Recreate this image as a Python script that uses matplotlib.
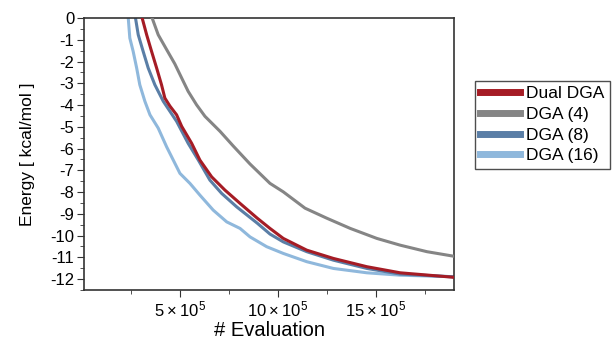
import matplotlib
matplotlib.use("Agg")
import matplotlib.pyplot as plt
from matplotlib.ticker import MultipleLocator, FixedLocator, FuncFormatter

plt.rcParams['font.family'] = ['Liberation Sans', 'DejaVu Sans']
plt.rcParams['mathtext.fontset'] = 'custom'
plt.rcParams['mathtext.rm'] = 'Liberation Sans'
plt.rcParams['axes.unicode_minus'] = False

# evaluations in units of 1e5, energy in kcal/mol
dual_x = [3.07, 3.30, 3.55, 3.81, 4.06, 4.23, 4.49, 4.83, 5.09, 5.60, 6.02, 6.62, 7.30,
          8.07, 8.95, 9.60, 10.28, 11.48, 12.84, 14.55, 16.25, 18.90, 19.0]
dual_y = [0.0, -0.77, -1.53, -2.30, -3.07, -3.68, -4.05, -4.45, -4.98, -5.76, -6.53, -7.30, -7.91,
          -8.52, -9.20, -9.67, -10.13, -10.67, -11.05, -11.43, -11.71, -11.91, -11.92]

dga4_x = [3.58, 3.89, 4.32, 4.74, 5.09, 5.42, 5.85, 6.28, 7.05, 7.73, 8.58, 9.60, 10.28,
          11.39, 12.50, 13.70, 15.06, 16.25, 17.62, 19.0]
dga4_y = [0.0, -0.77, -1.45, -2.11, -2.76, -3.37, -3.99, -4.52, -5.21, -5.89, -6.71, -7.60, -7.99,
          -8.74, -9.20, -9.67, -10.13, -10.44, -10.74, -10.95]

dga8_x = [2.73, 2.87, 3.12, 3.38, 3.72, 4.15, 4.49, 4.83, 5.42, 5.94, 6.53, 7.13, 7.90,
          8.95, 9.60, 10.28, 11.48, 12.84, 14.55, 16.25, 18.90, 19.0]
dga8_y = [0.0, -0.77, -1.53, -2.30, -3.07, -3.83, -4.29, -4.75, -5.76, -6.53, -7.45, -8.06, -8.68,
          -9.43, -9.93, -10.29, -10.74, -11.13, -11.51, -11.77, -11.89, -11.90]

dga16_x = [2.36, 2.44, 2.61, 2.79, 2.95, 3.21, 3.47, 3.89, 4.32, 4.66, 5.00, 5.51, 6.02,
           6.70, 7.39, 8.07, 8.58, 9.43, 10.28, 11.48, 12.84, 14.55, 16.25, 18.90, 19.0]
dga16_y = [0.0, -0.92, -1.53, -2.30, -3.07, -3.83, -4.45, -5.06, -5.92, -6.53, -7.14, -7.60, -8.14,
           -8.83, -9.37, -9.67, -10.06, -10.51, -10.82, -11.20, -11.51, -11.71, -11.82, -11.89, -11.90]

labels = ['Dual DGA', 'DGA (4)', 'DGA (8)', 'DGA (16)']
colors = ['#a51c25', '#858585', '#5a7ea6', '#8fb8dc']

fig = plt.figure(figsize=(6.15, 3.41), dpi=100)
ax = fig.add_axes([0.1366, 0.1496, 0.6016, 0.7976])

series = [(dual_x, dual_y), (dga4_x, dga4_y), (dga8_x, dga8_y), (dga16_x, dga16_y)]
zs = [4, 3, 2, 1]  # red on top, light blue at the bottom
lines = []
for i in range(4):
    xs, ys = series[i]
    ln, = ax.plot([v * 1e5 for v in xs], ys, color=colors[i], lw=2.2,
                  label=labels[i], zorder=zs[i], solid_joinstyle='round')
    lines.append(ln)

ax.set_xlim(0.1e5, 19.0e5)
ax.set_ylim(-12.5, 0)

ax.yaxis.set_major_locator(MultipleLocator(1))
ax.yaxis.set_minor_locator(MultipleLocator(0.5))
ax.yaxis.set_major_formatter(FuncFormatter(lambda v, p: '%d' % round(v)))
ax.xaxis.set_major_locator(FixedLocator([5e5, 10e5, 15e5]))
ax.xaxis.set_minor_locator(FixedLocator([2.5e5, 7.5e5, 12.5e5, 17.5e5]))
ax.xaxis.set_major_formatter(FuncFormatter(
    lambda v, p: r'$\mathregular{%d\times10^{5}}$' % round(v / 1e5)))

ax.tick_params(which='both', direction='out', color='#333333', labelsize=12, pad=2)
ax.tick_params(which='major', length=5)
ax.tick_params(which='minor', length=3)
for s in ax.spines.values():
    s.set_color('#333333')
    s.set_linewidth(1.2)

ax.set_xlabel('# Evaluation', fontsize=14.5, labelpad=1)
ax.set_ylabel('Energy [ kcal/mol ]', fontsize=12.5, labelpad=11)

leg = fig.legend(handles=lines, labels=labels, loc='upper left',
                 bbox_to_anchor=(475 / 615, 1 - 81 / 341), fontsize=12.5,
                 frameon=True, fancybox=False, edgecolor='#222222',
                 handlelength=2.3, handletextpad=0.35, labelspacing=0.32,
                 borderpad=0.3, borderaxespad=0)
for h in leg.get_lines():
    h.set_linewidth(5)
leg.get_frame().set_linewidth(1.0)

plt.savefig('out.png', dpi=100)
